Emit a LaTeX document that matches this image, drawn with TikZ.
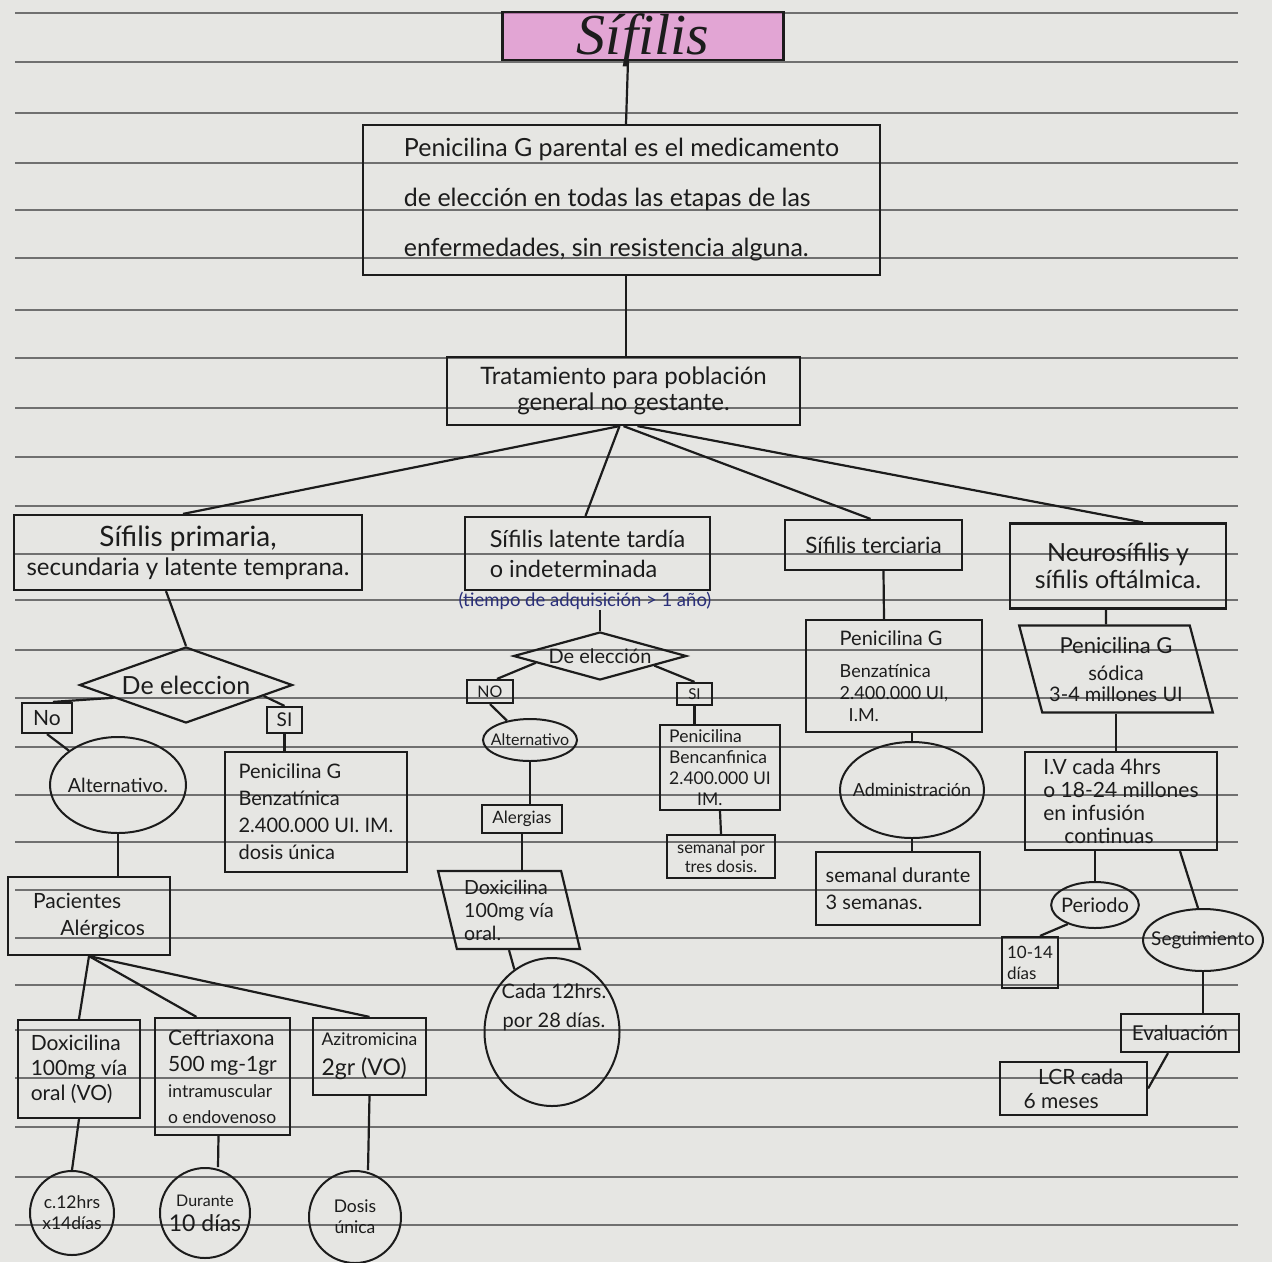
\documentclass[tikz,border=0pt]{standalone}
\usepackage{fontspec}
\setmainfont{Lato}
\newfontfamily\titlefont{Liberation Serif}
\usetikzlibrary{shapes.geometric}
\newcommand\fsz[2]{\fontsize{#1}{#2}\selectfont}
\definecolor{paper}{HTML}{E6E6E3}
\definecolor{ink}{HTML}{1C1C1C}
\definecolor{rulec}{HTML}{707070}
\definecolor{hilite}{HTML}{E070C8}
\definecolor{blueink}{HTML}{2A2F7A}
\begin{document}
\begin{tikzpicture}[x=1pt,y=-1pt,
  box/.style={draw=ink, line width=2.2pt, rectangle, inner sep=2pt, align=center, text=ink},
  oval/.style={draw=ink, line width=2pt, ellipse, inner sep=0pt, align=center, text=ink},
  dia/.style={draw=ink, line width=2.2pt, diamond, inner sep=0pt, align=center, text=ink},
  para/.style={draw=ink, line width=2.2pt, trapezium, trapezium stretches=true, inner sep=0pt, align=center, text=ink},
  conn/.style={draw=ink, line width=2.2pt},
  ruleline/.style={draw=rulec, line width=1.4pt}]
\useasboundingbox (0,0) rectangle (1272,1262);
\fill[paper] (0,0) rectangle (1272,1262);
\foreach \yy in {13,62,113,163,210,258,310,358,408,457,506,554,600,650,698,747,795,842,890,938,985,1030,1078,1127,1177,1225}
  \draw[ruleline] (15,\yy) -- (1238,\yy);

% top
\node[box, inner sep=0pt, text height=40pt, text depth=4pt, minimum width=281, minimum height=48, fill=hilite, fill opacity=0.55, text opacity=1, font=\titlefont\itshape\fsz{58}{60}] (title) at (643,36) {Sífilis};
\node[box, minimum width=517, minimum height=150, align=left, font=\fsz{25}{50}] (b2) at (621.5,200) {Penicilina G parental es el medicamento\\de elección en todas las etapas de las\\enfermedades, sin resistencia alguna.};
\node[box, minimum width=353, minimum height=68, font=\fsz{24}{26}] (b3) at (623.5,391) {Tratamiento para población\\general no gestante.};

% left column
\node[box, minimum width=348, minimum height=75, font=\fsz{24}{29}] (prim) at (188,552.5) {\fsz{28}{29}Sífilis primaria,\\secundaria y latente temprana.};
\node[dia, aspect=2.8, minimum width=213, minimum height=76, font=\fsz{25}{27}] (d1) at (186,685) {De eleccion};
\node[box, minimum width=50, minimum height=30, font=\fsz{21}{22}] (no1) at (47,718) {No};
\node[box, minimum width=35, minimum height=26, font=\fsz{19}{20}] (si1) at (284.5,720) {SI};
\node[oval, inner xsep=-5pt, minimum width=136, minimum height=96, font=\fsz{19.5}{22}] (alt1) at (118,785) {Alternativo.};
\node[box, minimum width=182, minimum height=120, align=left, font=\fsz{20}{27}] (pen1) at (316,812) {Penicilina G\\Benzatínica\\2.400.000 UI. IM.\\dosis única};
\node[box, minimum width=162, minimum height=78, align=left, font=\fsz{21}{27}] (pac) at (89,916) {Pacientes\\\hspace*{1.3em}Alérgicos};
\node[box, minimum width=122, minimum height=98, align=left, font=\fsz{21}{25}] (dox1) at (79,1069) {Doxicilina\\100mg vía\\oral (VO)};
\node[box, minimum width=135, minimum height=117, align=left, font=\fsz{17.5}{26}] (cef) at (222.5,1076.5) {\fsz{21}{26}Ceftriaxona\\\fsz{21}{26}500 mg-1gr\\intramuscular\\o endovenoso};
\node[box, minimum width=113, minimum height=77, align=left, font=\fsz{23}{30}] (azi) at (369.5,1056.5) {\fsz{17.5}{30}Azitromicina\\2gr (VO)};
\node[oval, circle, minimum size=84, font=\fsz{17.5}{21}] (c1) at (72,1213) {c.12hrs\\x14días};
\node[oval, circle, minimum size=90, font=\fsz{23}{25}] (c2) at (205,1213) {\fsz{16}{25}Durante\\10 días};
\node[oval, circle, minimum size=92, font=\fsz{17.5}{21}] (c3) at (355,1217) {Dosis\\única};

% middle column
\node[box, minimum width=245, minimum height=73, align=left, font=\fsz{23.5}{30}] (lat) at (587.5,553.5) {Sífilis latente tardía\\o indeterminada};
\node[text=blueink, inner sep=0pt, font=\fsz{18.5}{19}] (note) at (585,601) {(tiempo de adquisición > 1 año)};
\node[dia, aspect=3.6, minimum width=173, minimum height=48, font=\fsz{20}{22}] (d2) at (600,656) {De elección};
\node[box, minimum width=46, minimum height=23, font=\fsz{16}{18}] (no2) at (490,691.5) {NO};
\node[box, minimum width=35, minimum height=22, font=\fsz{15}{17}] (si2) at (694.5,694) {SI};
\node[oval, inner xsep=-6pt, minimum width=94, minimum height=42, font=\fsz{16}{18}] (alt2) at (530,740) {Alternativo};
\node[box, minimum width=120, minimum height=85, align=left, font=\fsz{17.5}{21}] (pen2) at (720,767.5) {Penicilina\\Bencanfinica\\2.400.000 UI\\\hspace*{1.6em}IM.};
\node[box, minimum width=108, minimum height=43, font=\fsz{16.5}{19}] (sem) at (721,856.5) {semanal por\\tres dosis.};
\node[box, minimum width=80, minimum height=28, font=\fsz{17}{19}] (alg) at (522,819) {Alergias};
\node[para, trapezium left angle=105, trapezium right angle=75, minimum width=142, minimum height=78, align=left, font=\fsz{19.5}{23}] (dox2) at (509,910) {Doxicilina\\100mg vía\\oral.};
\node[oval, minimum width=135, minimum height=148] (circ2) at (552,1032) {};
\node[text=ink, align=center, inner sep=0pt, font=\fsz{20}{29}] (circ2txt) at (554,1007) {Cada 12hrs.\\por 28 días.};

% terciaria column
\node[box, minimum width=177, minimum height=50, font=\fsz{22.5}{24}] (ter) at (873.5,545) {Sífilis terciaria};
\node[box, minimum width=176, minimum height=112, align=left, font=\fsz{18}{22}] (pen3) at (894,676) {\fsz{20}{22}Penicilina G\\[10pt]Benzatínica\\2.400.000 UI,\\\hspace*{0.5em}I.M.};
\node[oval, inner xsep=-10pt, minimum width=144, minimum height=96, font=\fsz{18}{20}] (adm) at (912,790) {Administración};
\node[box, minimum width=164, minimum height=73, align=left, font=\fsz{20}{27}] (sem3) at (898,888.5) {semanal durante\\3 semanas.};

% neuro column
\node[box, minimum width=216, minimum height=85, font=\fsz{25}{27}] (neu) at (1118,566) {Neurosífilis y\\sífilis oftálmica.};
\node[para, trapezium left angle=108, trapezium right angle=72, minimum width=194, minimum height=87, font=\fsz{20}{21}] (pen4) at (1116,669) {\fsz{22}{21}Penicilina G\\[6pt]sódica\\3-4 millones UI};
\node[box, minimum width=192, minimum height=98, align=left, font=\fsz{21}{23}] (iv) at (1121,801) {I.V cada 4hrs\\o 18-24 millones\\en infusión\\\hspace*{1em}continuas};
\node[oval, inner xsep=-3pt, minimum width=84, minimum height=46, font=\fsz{20}{20}] (per) at (1095,905) {Periodo};
\node[box, minimum width=56, minimum height=51, align=left, font=\fsz{17}{21}] (d1014) at (1030,962.5) {10-14\\días};
\node[oval, inner xsep=-10pt, minimum width=120, minimum height=62, font=\fsz{19}{20}] (seg) at (1203,940) {Seguimiento};
\node[box, minimum width=118, minimum height=38, font=\fsz{20.5}{22}] (eva) at (1180,1033) {Evaluación};
\node[box, minimum width=147, minimum height=53, align=left, font=\fsz{21}{24}] (lcr) at (1073.5,1088.5) {\hspace*{0.7em}LCR cada\\6 meses};

% connectors
\draw[conn] ([xshift=-15pt]title.south) -- ([xshift=4.5pt]b2.north);
\draw[conn] ([xshift=4.5pt]b2.south) -- ([xshift=2.5pt]b3.north);
\draw[conn] ([xshift=-4pt]b3.south) -- ([xshift=-5pt]prim.north);
\draw[conn] ([xshift=-4pt]b3.south) -- ([xshift=-2pt]lat.north);
\draw[conn] (b3.south) -- ([xshift=-3pt]ter.north);
\draw[conn] ([xshift=14pt]b3.south) -- ([xshift=25pt]neu.north);

\draw[conn] ([xshift=-22pt]prim.south) -- (d1.north);
\draw[conn] (d1.190) -- ([xshift=6pt]no1.north);
\draw[conn] (d1.-8) -- (si1.north);
\draw[conn] (no1.south) -- (alt1.145);
\draw[conn] (si1.south) -- (si1.south |- pen1.north);
\draw[conn] (alt1.south) -- (alt1.south |- pac.north);
\draw[conn] (pac.south) -- (dox1.north);
\draw[conn] (pac.south) -- ([xshift=-26pt]cef.north);
\draw[conn] (pac.south) -- (azi.north);
\draw[conn] (dox1.south) -- (c1.north);
\draw[conn] ([xshift=-4pt]cef.south) -- ([xshift=13pt]c2.north);
\draw[conn] (azi.south) -- ([xshift=13pt]c3.north);

\draw[conn] (note.south -| d2.north) -- (d2.north);
\draw[conn] (d2.186) -- ([xshift=7pt]no2.north);
\draw[conn] (d2.-10) -- (si2.north);
\draw[conn] (no2.south) -- (alt2.140);
\draw[conn] (si2.south) -- (si2.south |- pen2.north);
\draw[conn] (pen2.south) -- (sem.north);
\draw[conn] (alt2.south) -- (alt2.south |- alg.north);
\draw[conn] (alg.south) -- (alg.south |- dox2.north);
\draw[conn] (dox2.south) -- (circ2.121);

\draw[conn] ([xshift=10pt]ter.south) -- ([xshift=-10pt]pen3.north);
\draw[conn] (adm.north |- pen3.south) -- (adm.north);
\draw[conn] (adm.south) -- (adm.south |- sem3.north);

\draw[conn] ([xshift=-12pt]neu.south) -- ([xshift=-10pt]pen4.north);
\draw[conn] (pen4.south) -- (pen4.south |- iv.north);
\draw[conn] (per.north |- iv.south) -- (per.north);
\draw[conn] (per.215) -- ([xshift=10pt]d1014.north);
\draw[conn] ([xshift=59pt]iv.south) -- ([xshift=-5pt]seg.north);
\draw[conn] (seg.south) -- (seg.south |- eva.north);
\draw[conn] ([xshift=-12pt]eva.south) -- (lcr.east);
\end{tikzpicture}
\end{document}
